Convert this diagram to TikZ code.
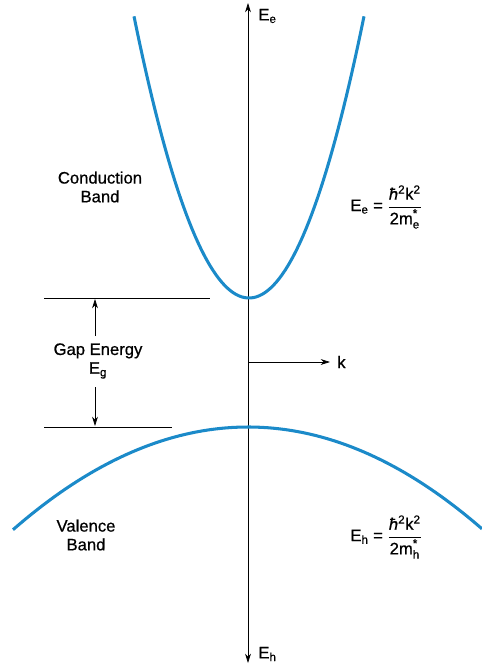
\documentclass[tikz,border=0pt]{standalone}
\usepackage{amsmath}
\usepackage{fontspec}
\setmainfont{Liberation Sans}[
    BoldFont={Liberation Sans},
    BoldFeatures={FakeBold=0.7},
    BoldItalicFont={Liberation Sans Italic},
    BoldItalicFeatures={FakeBold=0.7}
]
\usetikzlibrary{
    positioning,
    arrows.meta
}
\definecolor{bandblue}{RGB}{27,138,201}
\tikzset{
    >={Stealth[length=8pt,width=5pt]},
    band/.style={
        bandblue,
        line width=2.6pt
    },
    nivel/.style={
        line width=0.6pt
    },
    etiqueta/.style={
        font=\fontsize{14.2}{16}\selectfont\bfseries,
        align=center,
        inner sep=1pt
    }
}
\newcommand{\fraccion}[1]{%
    $\dfrac{\text{\textit{ħ}\textsuperscript{2}k\textsuperscript{2}}}%
           {\text{2m}^{\text{*}}_{\text{#1}}}$}

\begin{document}
\begin{tikzpicture}[
    x=0.03cm,
    y=-0.03cm
]
    \useasboundingbox (0,0) rectangle (482,666);

    % Ejes
    \coordinate (origen) at (248,362);
    \coordinate (arriba) at (248,3);
    \coordinate (abajo)  at (248,663);
    \coordinate (kfin)   at (330,362);
    \draw[<->, nivel] (abajo) -- (arriba);
    \draw[->, nivel] (origen) -- (kfin);
    \node[etiqueta, anchor=west] (Ee) at (257,16)  {E\textsubscript{e}};
    \node[etiqueta, anchor=west] (Eh) at (257,654) {E\textsubscript{h}};
    \node[etiqueta, right=5pt of kfin] (k) {k};

    % Bandas
    \draw[band] plot[domain=134:364, samples=80]
        (\x, {298-213*((\x-249)/100)^2});
    \draw[band] plot[domain=13:482, samples=80]
        (\x, {427+18.6*((\x-248)/100)^2});

    % Niveles del gap
    \coordinate (cbi) at (44,298);
    \coordinate (cbd) at (210,298);
    \coordinate (vbi) at (44,427);
    \coordinate (vbd) at (172,427);
    \draw[nivel] (cbi) -- (cbd);
    \draw[nivel] (vbi) -- (vbd);

    \node[etiqueta] (gap) at (98,361) {Gap Energy\\E\textsubscript{g}};
    \coordinate (gaparriba) at (95,299);
    \coordinate (gapabajo)  at (95,426);
    \draw[->, nivel] (95,336) -- (gaparriba);
    \draw[->, nivel] (95,387) -- (gapabajo);

    % Textos
    \node[etiqueta] (conduccion) at (100,187) {Conduction\\Band};
    \node[etiqueta] (valencia)   at (86,535)  {Valence\\Band};
    \node[etiqueta, anchor=west] (fe) at (349,207)
        {E\textsubscript{e} = \fraccion{e}};
    \node[etiqueta, anchor=west] (fh) at (349,537)
        {E\textsubscript{h} = \fraccion{h}};

\end{tikzpicture}
\end{document}
